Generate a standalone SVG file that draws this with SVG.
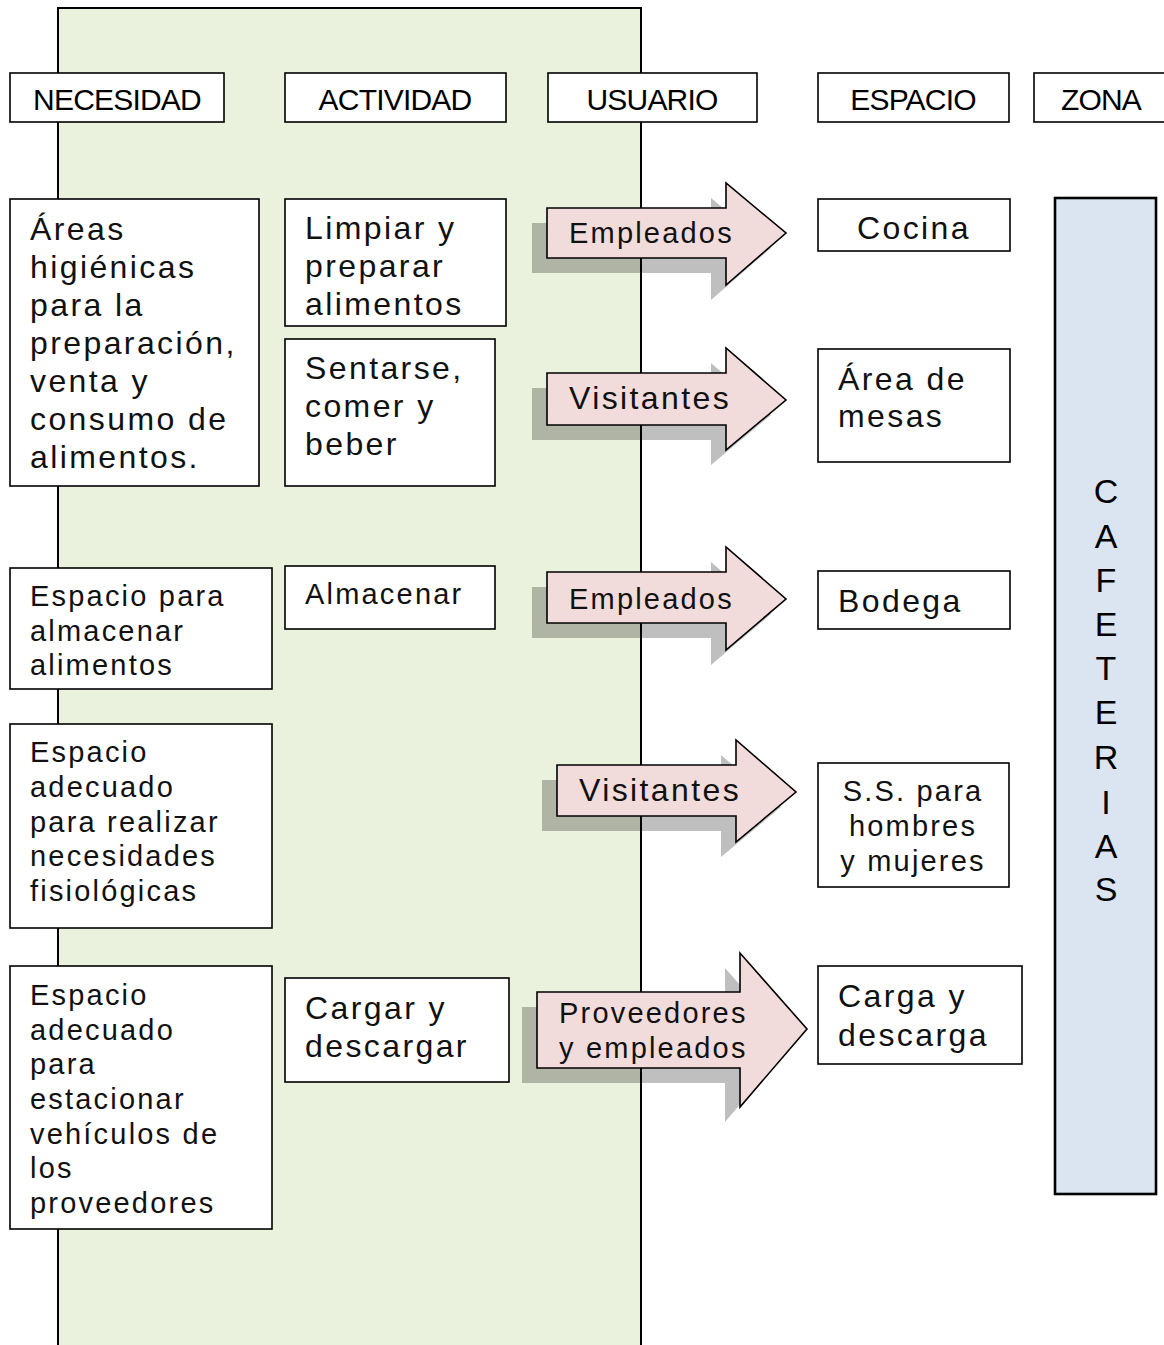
<svg xmlns="http://www.w3.org/2000/svg" width="1164" height="1345" viewBox="0 0 1164 1345">
<style>
  .box { fill: #ffffff; stroke: #000000; stroke-width: 1.6; }
  .hdr { font-family: "Liberation Sans", Arial, sans-serif; font-size: 30px; letter-spacing: -0.8px; fill: #000; }
  .t31 { font-family: "Liberation Sans", Arial, sans-serif; font-size: 32px; letter-spacing: 2.4px; fill: #111; }
  .t28 { font-family: "Liberation Sans", Arial, sans-serif; font-size: 29px; letter-spacing: 2.2px; fill: #111; }
  .arrow { fill: #f2dcdb; stroke: #000; stroke-width: 1.6; stroke-linejoin: miter; }
  .shadow { fill: #000; fill-opacity: 0.25; }
  .zona { fill: #dbe5f1; stroke: #000; stroke-width: 2.6; }
  .vert { font-family: "Liberation Sans", Arial, sans-serif; font-size: 34px; fill: #000; text-anchor: middle; }
</style>

<g id="band">
  <rect x="58" y="8" width="583" height="1345" fill="#eaf1dd" stroke="#000" stroke-width="2"/>
</g>

<g id="headers">
  <g id="h-necesidad"><rect class="box" x="10" y="73" width="214" height="49"/><text class="hdr" x="117" y="110" text-anchor="middle">NECESIDAD</text></g>
  <g id="h-actividad"><rect class="box" x="285" y="73" width="221" height="49"/><text class="hdr" x="395" y="110" text-anchor="middle">ACTIVIDAD</text></g>
  <g id="h-usuario"><rect class="box" x="548" y="73" width="209" height="49"/><text class="hdr" x="652" y="110" text-anchor="middle">USUARIO</text></g>
  <g id="h-espacio"><rect class="box" x="818" y="73" width="191" height="49"/><text class="hdr" x="913" y="110" text-anchor="middle">ESPACIO</text></g>
  <g id="h-zona"><rect class="box" x="1034" y="73" width="140" height="49"/><text class="hdr" x="1101" y="110" text-anchor="middle">ZONA</text></g>
</g>

<g id="connectors">
  <g id="arrow1">
    <path class="shadow" d="M532,223 H711 V198 L771,248 L711,300 V273 H532 Z"/>
    <path class="arrow" d="M547,208 H726 V183 L786,233 L726,285 V258 H547 Z"/>
    <text class="t28" x="569" y="243">Empleados</text>
  </g>
  <g id="arrow2">
    <path class="shadow" d="M532,388 H711 V363 L771,415 L711,465 V440 H532 Z"/>
    <path class="arrow" d="M547,373 H726 V348 L786,400 L726,450 V425 H547 Z"/>
    <text class="t31" x="569" y="409" letter-spacing="2">Visitantes</text>
  </g>
  <g id="arrow3">
    <path class="shadow" d="M532,587 H711 V562 L771,614 L711,665 V638 H532 Z"/>
    <path class="arrow" d="M547,572 H726 V547 L786,599 L726,650 V623 H547 Z"/>
    <text class="t28" x="569" y="609">Empleados</text>
  </g>
  <g id="arrow4">
    <path class="shadow" d="M542,780 H721 V755 L781,807 L721,857 V831 H542 Z"/>
    <path class="arrow" d="M557,765 H736 V740 L796,792 L736,842 V816 H557 Z"/>
    <text class="t31" x="579" y="801" letter-spacing="2">Visitantes</text>
  </g>
  <g id="arrow5">
    <path class="shadow" d="M522,1007 H725 V968 L792,1044 L725,1122 V1083 H522 Z"/>
    <path class="arrow" d="M537,992 H740 V953 L807,1029 L740,1107 V1068 H537 Z"/>
    <text class="t28" x="559" y="1023">Proveedores</text>
    <text class="t28" x="559" y="1058">y empleados</text>
  </g>
</g>

<g id="n-areas">
  <rect class="box" x="10" y="199" width="249" height="287"/>
  <text class="t31" x="30" y="240">Áreas</text>
  <text class="t31" x="30" y="278">higiénicas</text>
  <text class="t31" x="30" y="316">para la</text>
  <text class="t31" x="30" y="354">preparación,</text>
  <text class="t31" x="30" y="392">venta y</text>
  <text class="t31" x="30" y="430">consumo de</text>
  <text class="t31" x="30" y="468">alimentos.</text>
</g>

<g id="n-almacenar-espacio">
  <rect class="box" x="10" y="568" width="262" height="121"/>
  <text class="t28" x="30" y="606">Espacio para</text>
  <text class="t28" x="30" y="641">almacenar</text>
  <text class="t28" x="30" y="675">alimentos</text>
</g>

<g id="n-fisiologicas">
  <rect class="box" x="10" y="724" width="262" height="204"/>
  <text class="t28" x="30" y="762">Espacio</text>
  <text class="t28" x="30" y="797">adecuado</text>
  <text class="t28" x="30" y="832">para realizar</text>
  <text class="t28" x="30" y="866">necesidades</text>
  <text class="t28" x="30" y="901">fisiológicas</text>
</g>

<g id="n-estacionar">
  <rect class="box" x="10" y="966" width="262" height="263"/>
  <text class="t28" x="30" y="1005">Espacio</text>
  <text class="t28" x="30" y="1040">adecuado</text>
  <text class="t28" x="30" y="1074">para</text>
  <text class="t28" x="30" y="1109">estacionar</text>
  <text class="t28" x="30" y="1144">vehículos de</text>
  <text class="t28" x="30" y="1178">los</text>
  <text class="t28" x="30" y="1213">proveedores</text>
</g>

<g id="n-limpiar">
  <rect class="box" x="285" y="199" width="221" height="127"/>
  <text class="t31" x="305" y="239">Limpiar y</text>
  <text class="t31" x="305" y="277">preparar</text>
  <text class="t31" x="305" y="315">alimentos</text>
</g>

<g id="n-sentarse">
  <rect class="box" x="285" y="339" width="210" height="147"/>
  <text class="t31" x="305" y="379">Sentarse,</text>
  <text class="t31" x="305" y="417">comer y</text>
  <text class="t31" x="305" y="455">beber</text>
</g>

<g id="n-almacenar">
  <rect class="box" x="285" y="566" width="210" height="63"/>
  <text class="t28" x="305" y="604">Almacenar</text>
</g>

<g id="n-cargar">
  <rect class="box" x="285" y="978" width="224" height="104"/>
  <text class="t31" x="305" y="1019">Cargar y</text>
  <text class="t31" x="305" y="1057">descargar</text>
</g>

<g id="n-cocina">
  <rect class="box" x="818" y="199" width="192" height="52"/>
  <text class="t31" x="914" y="239" text-anchor="middle">Cocina</text>
</g>

<g id="n-mesas">
  <rect class="box" x="818" y="349" width="192" height="113"/>
  <text class="t31" x="838" y="390">Área de</text>
  <text class="t31" x="838" y="427">mesas</text>
</g>

<g id="n-bodega">
  <rect class="box" x="818" y="571" width="192" height="58"/>
  <text class="t31" x="838" y="612">Bodega</text>
</g>

<g id="n-ss">
  <rect class="box" x="818" y="763" width="191" height="124"/>
  <text class="t28" x="913" y="801" text-anchor="middle">S.S. para</text>
  <text class="t28" x="913" y="836" text-anchor="middle">hombres</text>
  <text class="t28" x="913" y="871" text-anchor="middle">y mujeres</text>
</g>

<g id="n-carga">
  <rect class="box" x="818" y="966" width="204" height="98"/>
  <text class="t31" x="838" y="1007">Carga y</text>
  <text class="t31" x="838" y="1046">descarga</text>
</g>

<g id="n-cafeterias">
  <rect class="zona" x="1055" y="198" width="101" height="996"/>
  <text class="vert" x="1106" y="503">C</text>
  <text class="vert" x="1106" y="548">A</text>
  <text class="vert" x="1106" y="592">F</text>
  <text class="vert" x="1106" y="636">E</text>
  <text class="vert" x="1106" y="680">T</text>
  <text class="vert" x="1106" y="724">E</text>
  <text class="vert" x="1106" y="769">R</text>
  <text class="vert" x="1106" y="814">I</text>
  <text class="vert" x="1106" y="858">A</text>
  <text class="vert" x="1106" y="901">S</text>
</g>
</svg>
